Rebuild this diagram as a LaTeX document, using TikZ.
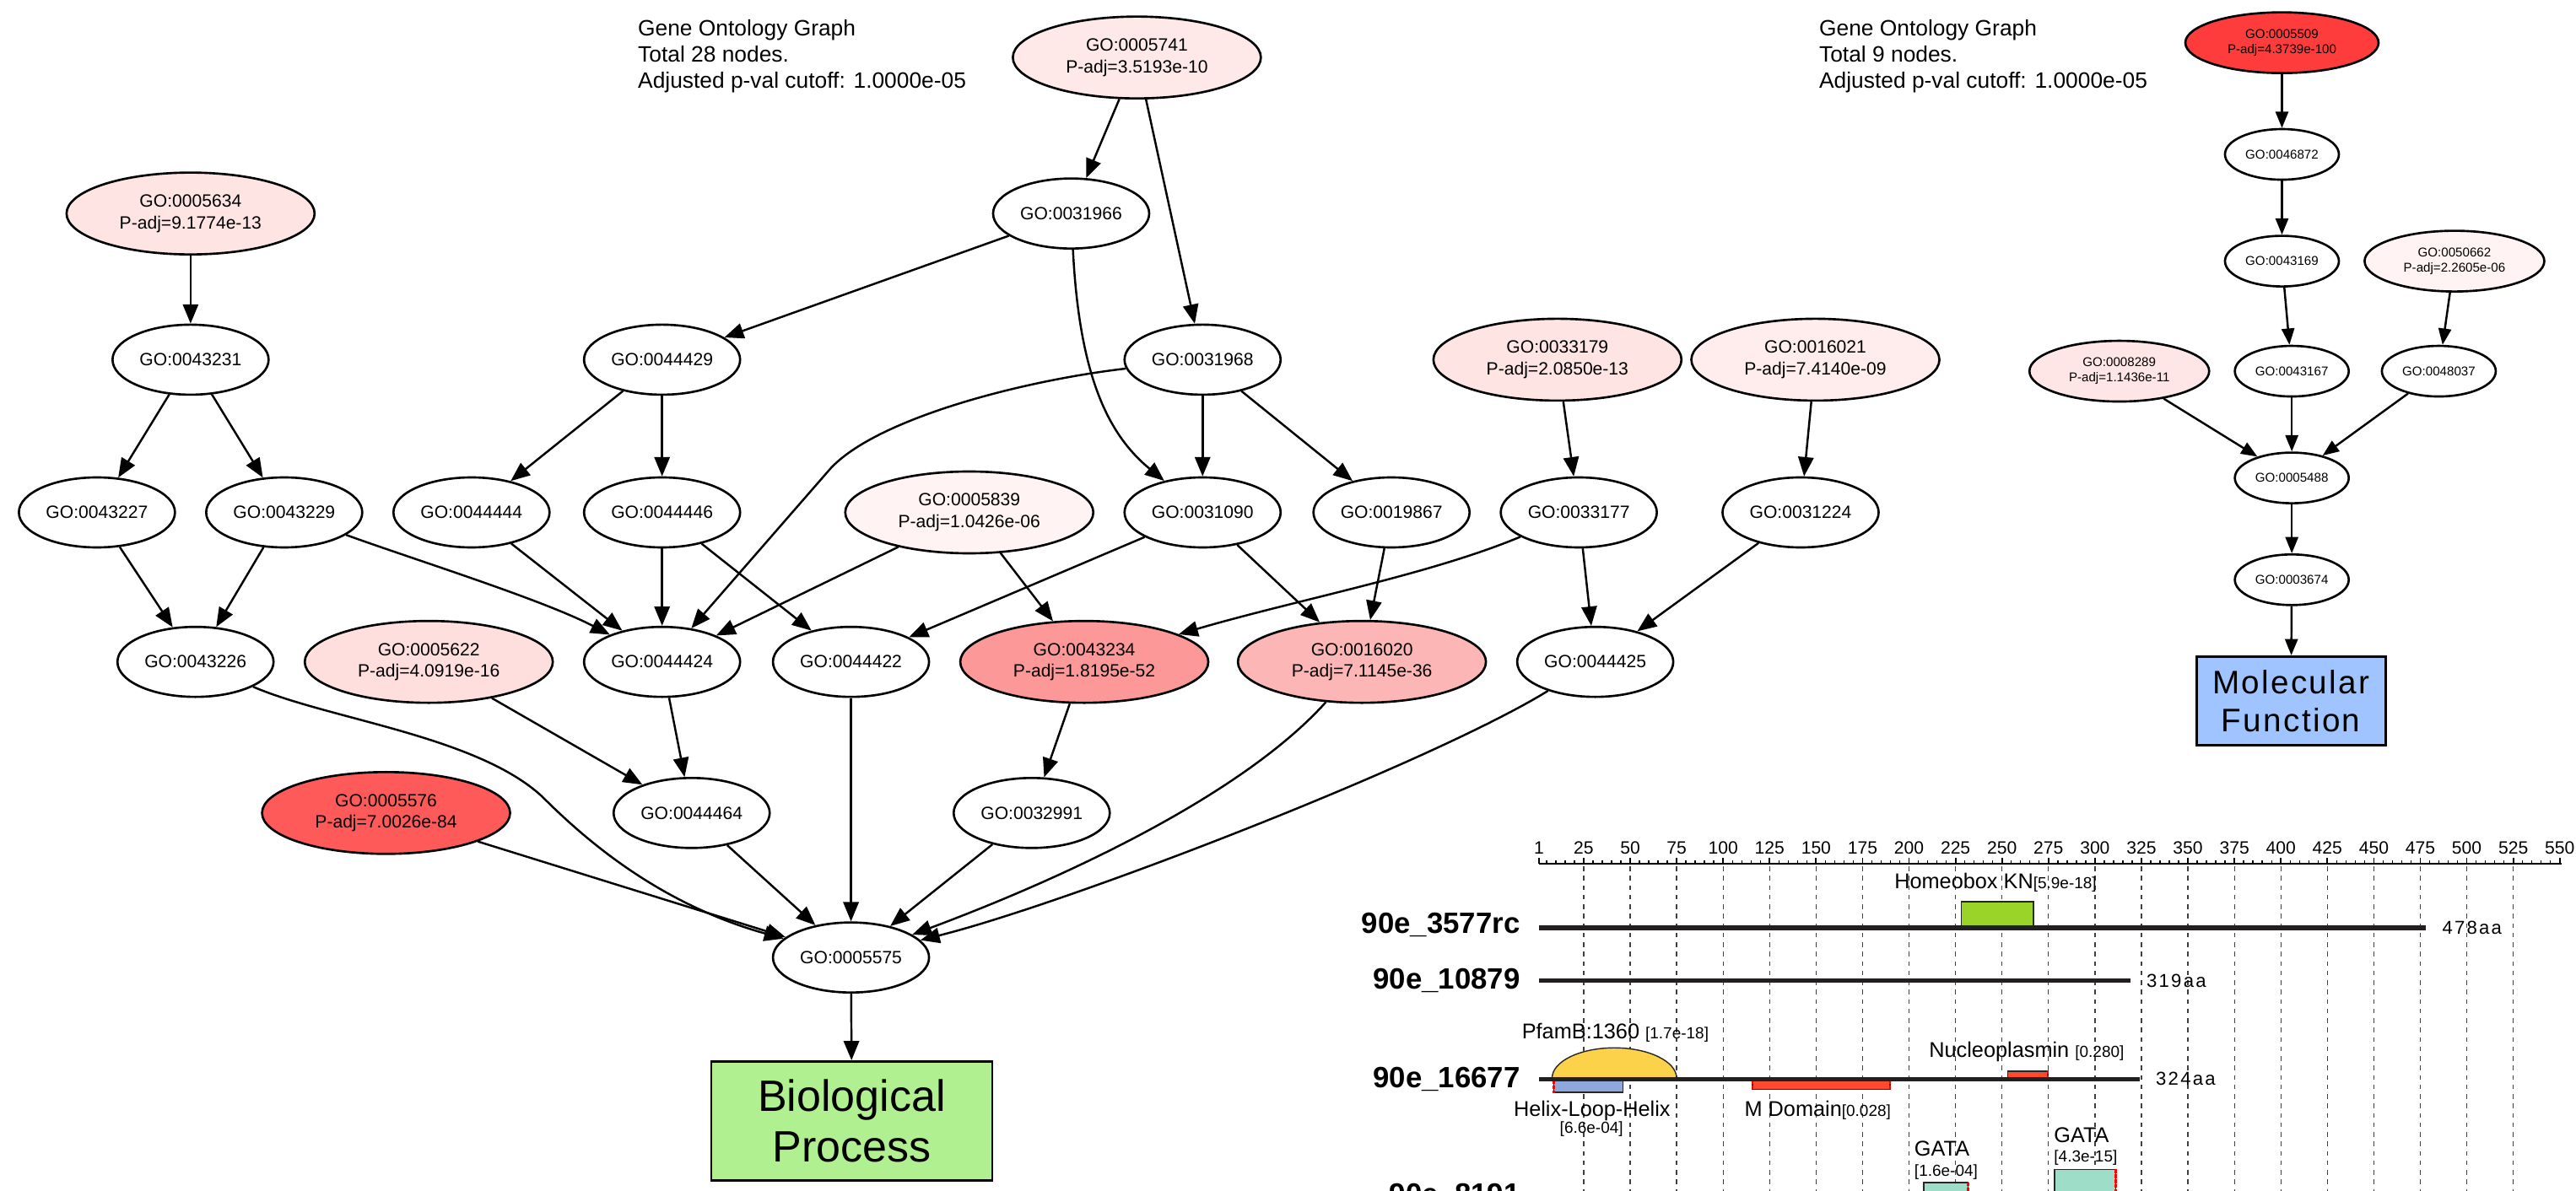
\documentclass[tikz,border=0pt]{standalone}
\usepackage{fontspec}
\setmainfont{Liberation Sans}
\newfontfamily\lenfont{Liberation Sans}[LetterSpace=10]
\newfontfamily\mflfont{Liberation Sans}[LetterSpace=6]
\usetikzlibrary{shapes.geometric,arrows.meta}

\definecolor{c5741}{RGB}{254,232,232}
\definecolor{c5634}{RGB}{255,228,228}
\definecolor{c33179}{RGB}{255,228,228}
\definecolor{c16021}{RGB}{255,237,237}
\definecolor{c5839}{RGB}{255,243,243}
\definecolor{c5622}{RGB}{255,222,222}
\definecolor{c43234}{RGB}{252,152,152}
\definecolor{c16020}{RGB}{253,182,182}
\definecolor{c5576}{RGB}{255,90,90}
\definecolor{c5509}{RGB}{255,60,60}
\definecolor{c50662}{RGB}{255,243,243}
\definecolor{c8289}{RGB}{255,230,230}
\definecolor{bpgreen}{RGB}{176,240,144}
\definecolor{mfblue}{RGB}{160,196,255}
\definecolor{hbxgreen}{RGB}{154,212,40}
\definecolor{pfamyellow}{RGB}{252,210,74}
\definecolor{hlhblue}{RGB}{143,168,220}
\definecolor{mdred}{RGB}{255,74,48}
\definecolor{gatateal}{RGB}{158,222,200}
\definecolor{protgrey}{RGB}{35,31,32}

\newcommand\domsmall{\fontsize{5.4}{6}\selectfont}

\begin{document}
\begin{tikzpicture}[x=0.01947cm,y=-0.01947cm,
    go/.style={ellipse,draw,line width=0.75pt,inner sep=0pt,align=center,
      minimum width=1.85cm,minimum height=0.83cm,font={\fontsize{6}{7.3}\selectfont}},
    gop/.style={go,minimum width=2.94cm,minimum height=0.97cm},
    mo/.style={go,minimum width=1.35cm,minimum height=0.6cm,font={\fontsize{4.3}{5}\selectfont}},
    mop/.style={mo,minimum width=2.13cm,minimum height=0.72cm},
    goarrow/.style={line width=0.7pt,-{Triangle[length=6.5pt,width=5.2pt]}},
    moarrow/.style={line width=0.7pt,-{Triangle[length=5.5pt,width=4.3pt]}},
    gohead/.style={anchor=north west,inner sep=0pt,align=left,font={\fontsize{7.5}{8.8}\selectfont}},
    bpbox/.style={rectangle,draw,line width=0.8pt,fill=bpgreen,inner sep=0pt,align=center,
      minimum width=3.33cm,minimum height=1.41cm,font={\fontsize{14.8}{17}\selectfont}},
    mfbox/.style={rectangle,draw,line width=0.8pt,fill=mfblue,inner sep=0pt,align=center,
      minimum width=2.24cm,minimum height=1.05cm,font={\mflfont\fontsize{11}{12.8}\selectfont}},
    rulenum/.style={anchor=base,inner sep=0pt,font={\fontsize{6}{7}\selectfont}},
    gridline/.style={draw=black!75,line width=0.35pt,dash pattern=on 1.6pt off 1.6pt},
    protline/.style={draw=protgrey,line width=1.5pt},
    protname/.style={anchor=base east,inner sep=0pt,font={\bfseries\fontsize{9.9}{12}\selectfont}},
    protlen/.style={anchor=west,inner sep=0pt,font={\lenfont\fontsize{6.3}{7.5}\selectfont}},
    domlabel/.style={inner sep=0pt,font={\fontsize{7.2}{8}\selectfont}},
    dombox/.style={draw=black!85,line width=0.4pt},
    cutmark/.style={draw=red,line width=0.8pt,dash pattern=on 1.2pt off 0.5pt}]
\useasboundingbox (0,0) rectangle (1568,725);

% biological process graph
\node[gohead] (bphead) at (388,11.8) {Gene Ontology Graph\\Total 28 nodes.\\Adjusted p-val cutoff: 1.0000e-05};
\node[gop,fill=c5741] (g5741) at (692,35) {GO:0005741\\P-adj=3.5193e-10};
\node[go] (g31966) at (652,130) {GO:0031966};
\node[gop,fill=c5634] (g5634) at (116,130) {GO:0005634\\P-adj=9.1774e-13};
\node[go] (g43231) at (116,219) {GO:0043231};
\node[go] (g44429) at (403,219) {GO:0044429};
\node[go] (g31968) at (732,219) {GO:0031968};
\node[gop,fill=c33179] (g33179) at (948,219) {GO:0033179\\P-adj=2.0850e-13};
\node[gop,fill=c16021] (g16021) at (1105,219) {GO:0016021\\P-adj=7.4140e-09};
\node[go] (g43227) at (59,312) {GO:0043227};
\node[go] (g43229) at (173,312) {GO:0043229};
\node[go] (g44444) at (287,312) {GO:0044444};
\node[go] (g44446) at (403,312) {GO:0044446};
\node[gop,fill=c5839] (g5839) at (590,312) {GO:0005839\\P-adj=1.0426e-06};
\node[go] (g31090) at (732,312) {GO:0031090};
\node[go] (g19867) at (847,312) {GO:0019867};
\node[go] (g33177) at (961,312) {GO:0033177};
\node[go] (g31224) at (1096,312) {GO:0031224};
\node[go] (g43226) at (119,403) {GO:0043226};
\node[gop,fill=c5622] (g5622) at (261,403) {GO:0005622\\P-adj=4.0919e-16};
\node[go] (g44424) at (403,403) {GO:0044424};
\node[go] (g44422) at (518,403) {GO:0044422};
\node[gop,fill=c43234] (g43234) at (660,403) {GO:0043234\\P-adj=1.8195e-52};
\node[gop,fill=c16020] (g16020) at (829,403) {GO:0016020\\P-adj=7.1145e-36};
\node[go] (g44425) at (971,403) {GO:0044425};
\node[gop,fill=c5576] (g5576) at (235,495) {GO:0005576\\P-adj=7.0026e-84};
\node[go] (g44464) at (421,495) {GO:0044464};
\node[go] (g32991) at (628,495) {GO:0032991};
\node[go] (g5575) at (518,583) {GO:0005575};
\node[bpbox] (bp) at (518.5,682.5) {Biological\\Process};

\draw[goarrow] (g5741) -- (g31966);
\draw[goarrow] (g5741) -- (g31968);
\draw[goarrow] (g31966) -- (g44429);
\draw[goarrow] (g31966) .. controls (657,230) and (675,265) .. (g31090);
\draw[goarrow] (g5634) -- (g43231);
\draw[goarrow] (g43231) -- (g43227);
\draw[goarrow] (g43231) -- (g43229);
\draw[goarrow] (g44429) -- (g44444);
\draw[goarrow] (g44429) -- (g44446);
\draw[goarrow] (g31968) .. controls (620,232) and (530,256) .. (504,287) -- (g44424);
\draw[goarrow] (g31968) -- (g31090);
\draw[goarrow] (g31968) -- (g19867);
\draw[goarrow] (g33179) -- (g33177);
\draw[goarrow] (g16021) -- (g31224);
\draw[goarrow] (g43227) -- (g43226);
\draw[goarrow] (g43229) -- (g43226);
\draw[goarrow] (g43229) .. controls (250,340) and (330,365) .. (g44424);
\draw[goarrow] (g44444) -- (g44424);
\draw[goarrow] (g44446) -- (g44424);
\draw[goarrow] (g44446) -- (g44422);
\draw[goarrow] (g5839) -- (g44424);
\draw[goarrow] (g5839) -- (g43234);
\draw[goarrow] (g31090) -- (g44422);
\draw[goarrow] (g31090) -- (g16020);
\draw[goarrow] (g19867) -- (g16020);
\draw[goarrow] (g33177) .. controls (870,350) and (790,365) .. (g43234);
\draw[goarrow] (g33177) -- (g44425);
\draw[goarrow] (g31224) -- (g44425);
\draw[goarrow] (g5622) -- (g44464);
\draw[goarrow] (g44424) -- (g44464);
\draw[goarrow] (g43234) -- (g32991);
\draw[goarrow] (g43226) .. controls (200,438) and (290,448) .. (330,485) .. controls (355,510) and (400,550) .. (g5575);
\draw[goarrow] (g5576) -- (g5575);
\draw[goarrow] (g44464) -- (g5575);
\draw[goarrow] (g44422) -- (g5575);
\draw[goarrow] (g32991) -- (g5575);
\draw[goarrow] (g16020) .. controls (760,480) and (660,530) .. (g5575);
\draw[goarrow] (g44425) .. controls (870,465) and (650,550) .. (g5575);
\draw[goarrow] (g5575) -- (bp);

% molecular function graph
\node[gohead] (mfhead) at (1107,11.8) {Gene Ontology Graph\\Total 9 nodes.\\Adjusted p-val cutoff: 1.0000e-05};
\node[mop,fill=c5509,minimum width=2.29cm] (m5509) at (1389,26) {GO:0005509\\P-adj=4.3739e-100};
\node[mo] (m46872) at (1389,94) {GO:0046872};
\node[mo] (m43169) at (1389,159) {GO:0043169};
\node[mop,fill=c50662] (m50662) at (1494,159) {GO:0050662\\P-adj=2.2605e-06};
\node[mop,fill=c8289] (m8289) at (1290,226) {GO:0008289\\P-adj=1.1436e-11};
\node[mo] (m43167) at (1395,226) {GO:0043167};
\node[mo] (m48037) at (1484.5,226) {GO:0048037};
\node[mo] (m5488) at (1395,291) {GO:0005488};
\node[mo] (m3674) at (1395,353) {GO:0003674};
\node[mfbox] (mf) at (1394.5,426.7) {Molecular\\Function};

\draw[moarrow] (m5509) -- (m46872);
\draw[moarrow] (m46872) -- (m43169);
\draw[moarrow] (m43169) -- (m43167);
\draw[moarrow] (m50662) -- (m48037);
\draw[moarrow] (m8289) -- (m5488);
\draw[moarrow] (m43167) -- (m5488);
\draw[moarrow] (m48037) -- (m5488);
\draw[moarrow] (m5488) -- (m3674);
\draw[moarrow] (m3674) -- (mf);

% domain map, x in residues
\begin{scope}[xshift=18.2175cm,x=0.02204cm]
  \foreach \t in {25,50,...,525} \draw[gridline] (\t,527.5) -- (\t,730);
  \draw[line width=0.75pt] (1,526) -- (551,526);
  \foreach \t in {5,10,...,550} \draw[line width=0.4pt] (\t,526) -- (\t,524);
  \foreach \t in {1,25,50,...,550} {
    \draw[line width=0.5pt] (\t,526) -- (\t,522.5);
    \node[rulenum] at (\t,520) {\t};
  }

  % 90e_3577rc
  \node[protname] (p3577) at (-8.9,568.4) {90e\_3577rc};
  \filldraw[dombox,fill=hbxgreen] (228,549) rectangle (267,565);
  \draw[protline] (1,565) -- (478,565);
  \node[protlen] (l3577) at (486.5,565) {478aa};
  \node[domlabel,anchor=base] (hbx) at (246.5,541.3) {Homeobox KN{\domsmall[5.9e-18]}};

  % 90e_10879
  \node[protname] (p10879) at (-8.9,602.1) {90e\_10879};
  \draw[protline] (1,597) -- (319,597);
  \node[protlen] (l10879) at (327.5,597) {319aa};

  % 90e_16677
  \node[protname] (p16677) at (-8.9,662.2) {90e\_16677};
  \filldraw[dombox,fill=pfamyellow] (8,656.5) arc[start angle=180,end angle=0,x radius=0.738cm,y radius=0.36cm] -- cycle;
  \filldraw[dombox,fill=hlhblue] (8.8,657) rectangle (46,665);
  \draw[cutmark] (8.8,658) -- (8.8,665.5);
  \filldraw[dombox,fill=mdred] (115.8,657) rectangle (189.8,663.4);
  \draw[cutmark] (115.8,658) -- (115.8,664);
  \draw[cutmark] (189.8,658) -- (189.8,664);
  \filldraw[dombox,fill=mdred] (253,652.2) rectangle (274.6,657);
  \draw[cutmark] (274.6,651.8) -- (274.6,656.5);
  \draw[protline] (1,657) -- (324,657);
  \node[protlen] (l16677) at (332.5,657) {324aa};
  \node[domlabel,anchor=base west] (pfam) at (-8.5,632.6) {PfamB:1360 {\domsmall[1.7e-18]}};
  \node[domlabel,anchor=base west] (nuc) at (210.5,643.7) {Nucleoplasmin {\domsmall[0.280]}};
  \node[domlabel,anchor=base] (hlh) at (29.5,679.7) {Helix-Loop-Helix};
  \node[domlabel,anchor=base,font=\domsmall] (hlhp) at (29.2,690) {[6.6e-04]};
  \node[domlabel,anchor=base west] (mdom) at (111.2,679.7) {M Domain{\domsmall[0.028]}};

  % 90e_8191
  \node[protname] (p8191) at (-8.9,733) {90e\_8191};
  \filldraw[dombox,fill=gatateal] (207.9,720) rectangle (231.7,730);
  \draw[cutmark] (231.7,720) -- (231.7,730);
  \filldraw[dombox,fill=gatateal] (278.2,712) rectangle (311.3,730);
  \draw[cutmark] (311.3,712) -- (311.3,730);
  \node[domlabel,anchor=base west] (gata1) at (202.6,704) {GATA};
  \node[domlabel,anchor=base west,font=\domsmall] (gata1p) at (202.6,716) {[1.6e-04]};
  \node[domlabel,anchor=base west] (gata2) at (277.7,695.4) {GATA};
  \node[domlabel,anchor=base west,font=\domsmall] (gata2p) at (277.7,707.3) {[4.3e-15]};
\end{scope}
\end{tikzpicture}
\end{document}
